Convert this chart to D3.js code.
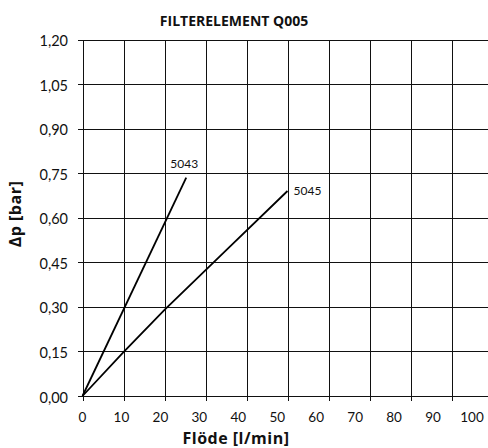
<!DOCTYPE html>
<html>
<head>
  <meta charset="utf-8">
  <script src="https://d3js.org/d3.v7.min.js"></script>
  <style>
  body { margin: 0; background: #fff; }
  text { font-family: Lato, "Open Sans", sans-serif; fill: #111; }
  .grid line { stroke: #111; stroke-width: 1.3px; shape-rendering: crispEdges; }
  .curve { fill: none; stroke: #000; stroke-width: 1.8px; }
  .title, .axis-title { font-family: "Open Sans", sans-serif; font-weight: bold; }
  .axis-title { letter-spacing: 0.5px; }
  </style>
</head>
<body>
  <script type="text/javascript">
  // data
  var xTicks = [0, 10, 20, 30, 40, 50, 60, 70, 80, 90, 100];
  var yTicks = [0, 0.15, 0.30, 0.45, 0.60, 0.75, 0.90, 1.05, 1.20];
  var names = ['5043', '5045'];
  var flow5043 = [0, 25.3];
  var dp5043 = [0, 0.735];
  var flow5045 = [0, 10, 20, 35, 50];
  var dp5045 = [0, 0.148, 0.29, 0.49, 0.69];

  var width = 488, height = 448;

  var svg = d3.select('body')
    .append('svg')
      .attr('width', width)
      .attr('height', height);

  var x = d3.scaleLinear().domain([0, 100]).range([82.5, 492.5]);
  // tick labels in the original drift a bit left of the grid lines
  var xLabel = d3.scaleLinear().domain([0, 100]).range([82.5, 472]);
  var y = d3.scaleLinear().domain([0, 1.2]).range([396, 39.5]);

  var comma = function(d) { return d3.format('.2f')(d).replace('.', ','); };

  // horizontal grid + ticks on the left
  svg.append('g')
    .attr('class', 'grid')
    .selectAll('line')
    .data(yTicks)
    .enter().append('line')
      .attr('x1', x(0) - 5)
      .attr('x2', x(100))
      .attr('y1', function(d) { return Math.round(y(d)) + 0.5; })
      .attr('y2', function(d) { return Math.round(y(d)) + 0.5; });

  // vertical grid + ticks below
  svg.append('g')
    .attr('class', 'grid')
    .selectAll('line')
    .data(xTicks)
    .enter().append('line')
      .attr('x1', function(d) { return Math.round(x(d)) + 0.5; })
      .attr('x2', function(d) { return Math.round(x(d)) + 0.5; })
      .attr('y1', y(1.2))
      .attr('y2', y(0) + 5);

  // y tick labels
  svg.append('g')
    .selectAll('text')
    .data(yTicks)
    .enter().append('text')
      .attr('x', 68)
      .attr('y', function(d) { return y(d) + 1.5; })
      .attr('dy', '0.35em')
      .attr('text-anchor', 'end')
      .style('font-size', '14.5px')
      .text(comma);

  // x tick labels
  svg.append('g')
    .selectAll('text')
    .data(xTicks)
    .enter().append('text')
      .attr('x', function(d) { return xLabel(d); })
      .attr('y', 421.5)
      .attr('text-anchor', 'middle')
      .style('font-size', '13.5px')
      .text(function(d) { return d; });

  // curves
  var line = d3.line()
    .x(function(d) { return x(d[0]); })
    .y(function(d) { return y(d[1]); });

  var series = [d3.zip(flow5043, dp5043), d3.zip(flow5045, dp5045)];

  svg.selectAll('.curve')
    .data(series)
    .enter().append('path')
      .attr('class', 'curve')
      .attr('d', line);

  // curve labels
  svg.append('text')
    .attr('x', x(flow5043[flow5043.length - 1]) - 2)
    .attr('y', y(dp5043[dp5043.length - 1]) - 10)
    .attr('text-anchor', 'middle')
    .style('font-size', '12px')
    .text(names[0]);

  svg.append('text')
    .attr('x', x(flow5045[flow5045.length - 1]) + 6)
    .attr('y', y(dp5045[dp5045.length - 1]) + 4)
    .style('font-size', '12px')
    .text(names[1]);

  // titles
  svg.append('text')
    .attr('class', 'title')
    .attr('x', 234)
    .attr('y', 26)
    .attr('text-anchor', 'middle')
    .style('font-size', '14px')
    .text('FILTERELEMENT Q005');

  svg.append('text')
    .attr('class', 'axis-title')
    .attr('x', 236)
    .attr('y', 444)
    .attr('text-anchor', 'middle')
    .style('font-size', '16px')
    .text('Flöde [l/min]');

  svg.append('text')
    .attr('class', 'axis-title')
    .attr('transform', 'translate(21, 214) rotate(-90)')
    .attr('text-anchor', 'middle')
    .style('font-size', '16px')
    .text('Δp  [bar]');
  </script>
</body>
</html>
